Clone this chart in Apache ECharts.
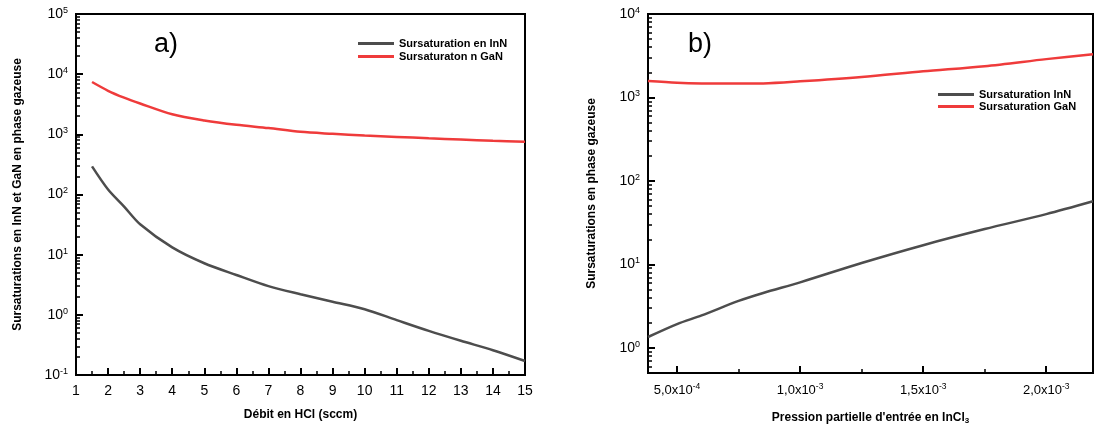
<!DOCTYPE html>
<html>
<head>
<meta charset="utf-8">
<script src="https://cdn.jsdelivr.net/npm/echarts@6/dist/echarts.min.js"></script>
<style>
html,body{margin:0;padding:0;background:#fff;}
#chart{width:1095px;height:430px;}
</style>
</head>
<body>
<div id="chart"></div>
<script>
// ---- Data ----
// Panel a) : flow of HCl (sccm)
const debitHCl = [1.5, 2, 2.5, 3, 4, 5, 6, 7, 8, 9, 10, 11, 12, 13, 14, 15];
const sursatInN_a = [293, 121, 63, 32, 13.2, 7.2, 4.6, 3.0, 2.2, 1.65, 1.24, 0.816, 0.54, 0.37, 0.258, 0.171];
const sursatGaN_a = [7400, 5300, 4070, 3250, 2150, 1700, 1440, 1270, 1100, 1020, 955, 905, 860, 820, 780, 750];

// Panel b) : InCl3 input partial pressure
const pInCl3 = [3.82e-4, 5e-4, 6e-4, 7.5e-4, 8.5e-4, 1e-3, 1.25e-3, 1.5e-3, 1.75e-3, 2e-3, 2.19e-3];
const sursatInN_b = [1.35, 1.93, 2.45, 3.65, 4.55, 6.1, 10.4, 17, 26.5, 40, 57];
const sursatGaN_b = [1570, 1500, 1475, 1470, 1475, 1560, 1760, 2060, 2370, 2880, 3300];

// Tick labels / tick positions
const xbTicks = [5e-4, 1e-3, 1.5e-3, 2e-3];
const xbTickLabels = ['5,0x10{sup|-4}', '1,0x10{sup|-3}', '1,5x10{sup|-3}', '2,0x10{sup|-3}'];
const xbMinorTicks = [7.5e-4, 1.25e-3, 1.75e-3];
const yaMajor = [-1, 0, 1, 2, 3, 4, 5];   // log10 of 10^-1 ... 10^5
const ybMajor = [0, 1, 2, 3, 4];          // log10 of 10^0 ... 10^4

// Minor log tick positions (log10 space) for overlay tick axes
function logMinor(lo, hi) {
  const out = [];
  for (let d = -2; d <= 5; d++) for (let k = 2; k <= 9; k++) {
    const v = d + Math.log10(k);
    if (v > lo && v < hi) out.push(v);
  }
  return out;
}

const FONT = 'Liberation Sans, Arial, sans-serif';
const GRAY = '#4d4d4d';
const RED = '#ef3b3b';
const supRich = {
  base: {fontSize: 14, fontFamily: FONT, color: '#000', lineHeight: 16},
  sup: {fontSize: 9, fontFamily: FONT, color: '#000', verticalAlign: 'top', lineHeight: 16, padding: [0, 0, 7, 0]}
};
function powLabel(v) {
  const e = Math.log10(v); const r = Math.round(e);
  if (Math.abs(e - r) > 1e-6) return '';
  return '{base|10}{sup|' + r + '}';
}
const axisLineStyle = {color: '#000', width: 2};
const tickStyle = {color: '#000', width: 2};
const minorStyle = {color: '#000', width: 1.5};

function tickAxis(grid, lo, hi, values, len, style) {
  return {
    type: 'value', gridIndex: grid, min: lo, max: hi, position: 'left', offset: 0,
    axisLine: {show: false, onZero: false},
    axisTick: {show: true, inside: true, length: len, customValues: values, lineStyle: style},
    axisLabel: {show: false}, splitLine: {show: false}
  };
}

const chart = echarts.init(document.getElementById('chart'), null, {renderer: 'canvas'});
const option = {
  animation: false,
  backgroundColor: '#fff',
  textStyle: {fontFamily: FONT},
  grid: [
    {left: 76, top: 14, width: 449, height: 361, show: true, borderColor: '#000', borderWidth: 2, backgroundColor: 'transparent'},
    {left: 648, top: 14, width: 445, height: 361, show: true, borderColor: '#000', borderWidth: 2, backgroundColor: 'transparent'}
  ],
  xAxis: [
    {type: 'value', gridIndex: 0, min: 1, max: 15, interval: 1, position: 'bottom',
      name: 'Débit en HCl (sccm)', nameLocation: 'middle', nameGap: 34,
      nameTextStyle: {fontSize: 12, fontWeight: 'bold', color: '#000', fontFamily: FONT},
      axisLine: {show: true, onZero: false, lineStyle: axisLineStyle},
      axisTick: {show: true, inside: true, length: 7, lineStyle: tickStyle},
      minorTick: {show: true, splitNumber: 2, length: 4, lineStyle: minorStyle},
      axisLabel: {fontSize: 14, color: '#000', margin: 9, fontFamily: FONT},
      splitLine: {show: false}, minorSplitLine: {show: false}},
    {type: 'value', gridIndex: 1, min: 3.82e-4, max: 2.19e-3, position: 'bottom',
      name: "Pression partielle d'entrée en InCl{sub|3}", nameLocation: 'middle', nameGap: 38,
      nameTextStyle: {fontSize: 12, fontWeight: 'bold', color: '#000', fontFamily: FONT,
        rich: {sub: {fontSize: 8, fontWeight: 'bold', color: '#000', fontFamily: FONT, verticalAlign: 'bottom', padding: [6, 0, 0, 0]}}},
      axisLine: {show: true, onZero: false, lineStyle: axisLineStyle},
      axisTick: {show: true, inside: true, length: 7, customValues: xbTicks, lineStyle: tickStyle},
      axisLabel: {customValues: xbTicks, margin: 9, color: '#000',
        formatter: function (v) {
          for (let i = 0; i < xbTicks.length; i++) if (Math.abs(v - xbTicks[i]) < 1e-9) return '{base|' + xbTickLabels[i].replace('{sup', '}{sup');
          return '';
        },
        rich: {base: {fontSize: 13, fontFamily: FONT, color: '#000', lineHeight: 16},
               sup: {fontSize: 8.5, fontFamily: FONT, color: '#000', verticalAlign: 'top', lineHeight: 16, padding: [0, 0, 7, 0]}}},
      splitLine: {show: false}},
    {type: 'value', gridIndex: 1, min: 3.82e-4, max: 2.19e-3, position: 'bottom', offset: 0,
      axisLine: {show: false, onZero: false},
      axisTick: {show: true, inside: true, length: 4, customValues: xbMinorTicks, lineStyle: minorStyle},
      axisLabel: {show: false}, splitLine: {show: false}}
  ],
  yAxis: [
    {type: 'log', logBase: 10, gridIndex: 0, min: 0.1, max: 1e5, position: 'left',
      name: 'Sursaturations en InN et GaN en phase gazeuse', nameLocation: 'middle', nameGap: 52,
      nameTextStyle: {fontSize: 12, fontWeight: 'bold', color: '#000', fontFamily: FONT},
      axisLine: {show: true, onZero: false, lineStyle: axisLineStyle},
      axisTick: {show: false},
      axisLabel: {formatter: powLabel, rich: supRich, margin: 8},
      splitLine: {show: false}},
    tickAxis(0, -1, 5, yaMajor, 7, tickStyle),
    tickAxis(0, -1, 5, logMinor(-1, 5), 4, minorStyle),
    {type: 'log', logBase: 10, gridIndex: 1, min: 0.5, max: 1e4, position: 'left',
      name: 'Sursaturations en phase gazeuse', nameLocation: 'middle', nameGap: 50,
      nameTextStyle: {fontSize: 12, fontWeight: 'bold', color: '#000', fontFamily: FONT},
      axisLine: {show: true, onZero: false, lineStyle: axisLineStyle},
      axisTick: {show: false},
      axisLabel: {formatter: powLabel, rich: supRich, margin: 8},
      splitLine: {show: false}},
    tickAxis(1, Math.log10(0.5), 4, ybMajor, 7, tickStyle),
    tickAxis(1, Math.log10(0.5), 4, logMinor(Math.log10(0.5), 4), 4, minorStyle)
  ],
  legend: [
    {left: 358, top: 38, orient: 'vertical', itemWidth: 36, itemHeight: 3, itemGap: 2, padding: 0,
      icon: 'rect', data: ['Sursaturation en InN', 'Sursaturaton n GaN'],
      textStyle: {fontSize: 11, fontWeight: 'bold', color: '#000', fontFamily: FONT}},
    {left: 938, top: 89, orient: 'vertical', itemWidth: 36, itemHeight: 3, itemGap: 1, padding: 0,
      icon: 'rect', data: ['Sursaturation InN', 'Sursaturation GaN'],
      textStyle: {fontSize: 11, fontWeight: 'bold', color: '#000', fontFamily: FONT}}
  ],
  graphic: [
    {type: 'text', left: 154, top: 31, style: {text: 'a)', fontSize: 27, fontFamily: FONT, fill: '#000'}},
    {type: 'text', left: 688, top: 31, style: {text: 'b)', fontSize: 27, fontFamily: FONT, fill: '#000'}}
  ],
  series: [
    {name: 'Sursaturation en InN', type: 'line', xAxisIndex: 0, yAxisIndex: 0, smooth: 0.3, symbol: 'none',
     color: GRAY, lineStyle: {width: 2.5, color: GRAY}, data: debitHCl.map((x, i) => [x, sursatInN_a[i]])},
    {name: 'Sursaturaton n GaN', type: 'line', xAxisIndex: 0, yAxisIndex: 0, smooth: 0.3, symbol: 'none',
     color: RED, lineStyle: {width: 2.5, color: RED}, data: debitHCl.map((x, i) => [x, sursatGaN_a[i]])},
    {name: 'Sursaturation InN', type: 'line', xAxisIndex: 1, yAxisIndex: 3, smooth: 0.3, symbol: 'none',
     color: GRAY, lineStyle: {width: 2.5, color: GRAY}, data: pInCl3.map((x, i) => [x, sursatInN_b[i]])},
    {name: 'Sursaturation GaN', type: 'line', xAxisIndex: 1, yAxisIndex: 3, smooth: 0.3, symbol: 'none',
     color: RED, lineStyle: {width: 2.5, color: RED}, data: pInCl3.map((x, i) => [x, sursatGaN_b[i]])}
  ]
};
chart.setOption(option);
</script>
</body>
</html>
